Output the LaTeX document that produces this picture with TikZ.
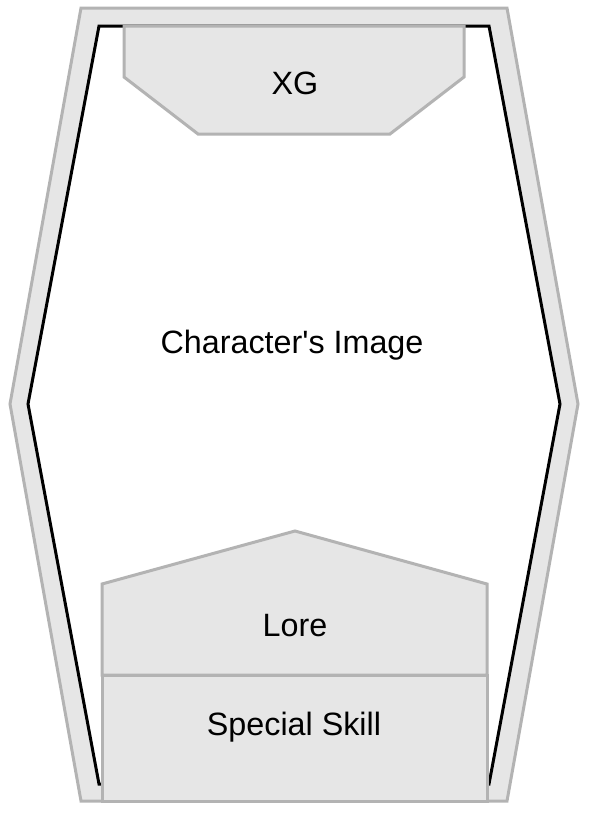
\documentclass[tikz,border=0pt]{standalone}
\usepackage{fontspec}
\newfontfamily\plainsans{Liberation Sans}
\definecolor{panelfill}{HTML}{E6E6E6}
\definecolor{panelline}{HTML}{B3B3B3}
\tikzset{
  panel/.style={fill=panelfill, draw=panelline, line width=3pt, line join=miter},
  frame/.style={fill=white, draw=black, line width=3pt, line join=miter},
  label/.style={font=\plainsans\fontsize{32.3}{38}\selectfont, text=black, inner sep=0pt}
}
\begin{document}
\begin{tikzpicture}[x=1pt,y=-1pt]
\useasboundingbox (0,0) rectangle (595,817);
% outer card
\draw[panel] (81,8) -- (507,8) -- (578,404) -- (507,801) -- (81,801) -- (10,404) -- cycle;
% inner frame
\draw[frame] (99,26) -- (489,26) -- (560,404) -- (489,784) -- (99,784) -- (28,404) -- cycle;
% XG banner
\draw[panel] (124,26) -- (464,26) -- (464,77) -- (390,134) -- (198,134) -- (124,77) -- cycle;
% Lore box
\draw[panel] (102,675) -- (102,584) -- (295,531) -- (487,584) -- (487,675) -- cycle;
% Special skill box
\draw[panel] (102,675) rectangle (487,801);
\node[label] (xg) at (295,83) {XG};
\node[label] (img) at (292,345) {Character's Image};
\node[label] (lore) at (295,626) {Lore};
\node[label] (skill) at (294,727) {Special Skill};
\end{tikzpicture}
\end{document}
